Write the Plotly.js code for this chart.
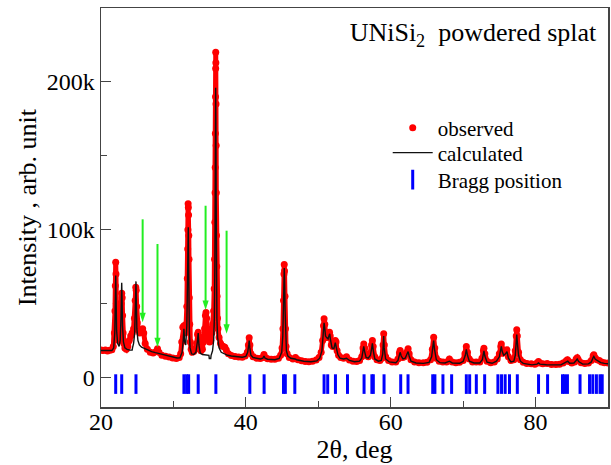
<!DOCTYPE html>
<html>
<head>
<meta charset="utf-8">
<script src="https://cdn.plot.ly/plotly-3.0.1.min.js"></script>
<style>html,body{margin:0;padding:0;background:#fff}</style>
</head>
<body>
<div id="chart" style="width:611px;height:465px"></div>
<script>
// observed pattern: 2theta (deg) and intensity (thousands of counts)
const obsX = [20.0,20.3,20.6,20.9,21.2,21.5,21.7,21.85,21.93,21.98,22.03,22.07,22.12,22.2,22.3,22.45,22.6,22.7,22.78,22.86,22.92,22.98,23.05,23.15,23.3,23.5,23.7,23.9,24.1,24.3,24.5,24.62,24.72,24.8,24.86,24.92,25.0,25.15,25.35,25.55,25.75,25.9,26.1,26.4,26.8,27.2,27.6,27.8,28.0,28.4,28.9,29.4,29.9,30.4,30.8,31.0,31.15,31.3,31.45,31.6,31.75,31.85,31.92,31.97,32.0,32.03,32.06,32.09,32.12,32.15,32.19,32.25,32.33,32.45,32.6,32.8,33.0,33.2,33.33,33.42,33.5,33.62,33.8,34.0,34.15,34.3,34.42,34.5,34.58,34.7,34.85,35.0,35.15,35.3,35.45,35.55,35.63,35.68,35.72,35.75,35.77,35.79,35.81,35.83,35.84,35.86,35.88,35.9,35.92,35.95,35.98,36.02,36.08,36.15,36.3,36.5,36.7,36.9,37.1,37.3,37.6,38.0,38.5,39.0,39.5,39.9,40.2,40.35,40.46,40.56,40.7,41.0,41.5,42.0,42.3,42.5,42.7,43.0,43.5,44.0,44.5,44.8,45.0,45.12,45.2,45.26,45.3,45.34,45.4,45.47,45.55,45.7,46.0,46.5,46.85,47.2,47.7,48.2,48.7,49.2,49.7,50.1,50.4,50.6,50.72,50.8,50.9,51.0,51.1,51.25,51.4,51.55,51.65,51.8,52.0,52.2,52.35,52.45,52.6,52.8,53.1,53.5,53.9,54.3,54.8,55.3,55.7,56.0,56.18,56.28,56.4,56.6,56.9,57.15,57.35,57.47,57.58,57.8,58.1,58.5,58.8,58.95,59.03,59.12,59.3,59.7,60.2,60.7,61.0,61.2,61.3,61.42,61.65,61.9,62.2,62.4,62.55,62.8,63.3,63.9,64.5,65.0,65.5,65.75,65.93,66.08,66.3,66.7,67.2,67.7,68.1,68.5,69.0,69.5,70.0,70.25,70.44,70.6,70.85,71.3,71.8,72.3,72.6,72.8,72.87,73.0,73.3,73.8,74.3,74.7,75.0,75.2,75.27,75.4,75.6,75.85,76.05,76.25,76.6,77.0,77.2,77.33,77.4,77.48,77.65,77.9,78.3,78.8,79.4,79.9,80.2,80.4,80.6,81.0,81.6,82.2,82.8,83.3,83.8,84.2,84.4,84.6,85.0,85.4,85.6,85.75,85.9,86.3,86.8,87.3,87.7,87.95,88.04,88.2,88.5,88.8,89.1,89.5,90.0];
const obsY = [18.6,18.2,18.5,17.9,18.4,18.8,21,30,45,62,78,70,50,33,27,25,28,38,50,57,54,42,30,23,20,19,21,25,28,30,33,40,52,61,59,48,37,32,30,32,33,30,23,19,17,16.5,17.5,19.5,17,15,14.3,13.8,13.2,12.8,13.5,16,24,34,35,30,36,48,67,87,100,117.6,115,110,96,80,54,36,24,19,17,17.5,19,23,29,30.6,28,21,18,19,24,33,42,44,40,31,26,24,25,30,36,45,60,80,105,125,142,165,190,209,220,213,185,157,125,96,75,55,40,33,27,23,21.5,21,20.5,18.5,16,14.8,14.2,13.9,13.6,14.5,17,22,26.8,22,16,14,13,12.8,13.5,15.5,13.5,12.7,12.3,12.3,13,15,20,33,52,70,76.4,72,55,33,21,16,13.5,12.5,13.5,12,11.3,10.8,10.6,10.9,11.8,13.5,17,25,35,39.7,36,30,29,27,27.5,30.6,28,22,21,21.5,25,24,18,15,13.5,13,14,11.8,11,10.8,11.5,14,20,22.7,20,15,14,16,22,25,21,14,12,11.5,13,22,29.5,22,14,11.5,10.5,10.5,12.5,16.5,18.2,16,13.5,14,17,19.4,16,12,10.5,10,10,10.3,12,19,27.2,20,13,11,10.5,10.5,12.5,10.5,10,10.2,11.5,16,21,17,12.5,10.5,10.5,10.5,13,18,19.8,16,11,10,10.5,12.5,16,21,22.7,19,16.5,17.5,18.7,14,11.5,12,18,28,32.2,28,17,12,10.2,9.5,9.2,9,9.8,10.8,9.8,9.2,9.5,8.8,8.8,9,9.8,11.2,12,10.8,9.8,10.5,12.5,13.3,12,10,9.5,9.8,11.5,14.5,15.3,13.5,12,11.5,10.5,10,9.8];

// calculated profile
const calcX = [20.0,21.5,21.75,21.9,21.97,22.03,22.08,22.15,22.3,22.5,22.65,22.76,22.83,22.86,22.9,22.97,23.1,23.3,23.6,24.0,24.3,24.35,24.5,24.65,24.75,24.8,24.83,24.88,24.95,25.1,25.3,25.6,26.0,26.5,27.0,27.5,28.0,28.5,29.0,29.5,30.0,30.5,30.9,31.2,31.35,31.45,31.55,31.7,31.85,31.95,32.02,32.05,32.09,32.14,32.2,32.3,32.5,32.8,33.1,33.3,33.42,33.52,33.7,34.0,34.5,34.9,34.95,35.15,35.2,35.4,35.55,35.65,35.72,35.77,35.8,35.83,35.86,35.9,35.95,36.0,36.1,36.3,36.6,37.0,37.5,38.0,38.5,39.0,39.5,40.0,40.25,40.4,40.46,40.55,40.7,41.0,41.5,42.0,42.35,42.5,42.65,43.0,44.0,44.6,44.95,45.1,45.2,45.27,45.3,45.35,45.42,45.5,45.6,45.8,46.2,46.8,47.0,48.0,49.0,49.8,50.2,50.5,50.7,50.8,50.9,51.0,51.15,51.35,51.5,51.58,51.7,51.9,52.15,52.35,52.5,52.7,53.0,53.5,53.9,54.3,55.0,55.7,56.0,56.2,56.28,56.4,56.6,56.9,57.2,57.38,57.47,57.6,57.8,58.3,58.7,58.9,59.0,59.03,59.1,59.3,59.8,60.7,61.0,61.2,61.3,61.45,61.7,62.0,62.25,62.4,62.55,62.8,63.5,64.5,65.3,65.65,65.85,65.93,66.05,66.3,66.8,67.5,68.1,68.5,69.5,70.0,70.3,70.44,70.6,70.85,71.5,72.3,72.65,72.8,72.87,73.0,73.3,74.0,74.6,75.0,75.18,75.27,75.4,75.6,75.85,76.05,76.25,76.6,77.0,77.2,77.33,77.4,77.48,77.65,77.9,78.3,79.5,80.2,80.4,80.6,81.5,82.5,83.5,84.0,84.3,84.45,84.7,85.3,85.6,85.75,85.95,86.5,87.3,87.7,87.95,88.04,88.25,88.6,89.0,89.5,90.0];
const calcY = [18.2,18.2,20,30,50,69,55,32,23,21,25,40,55,64,55,35,24,20,19,18.5,18.5,20,23,30,45,58,65,50,33,25,22,20.5,19.5,18.5,17.5,16.8,16.2,15.6,15,14.4,13.8,13.2,13.3,17,25,33,24,22,35,65,95,101.6,80,50,30,20,16,15.5,17,24,30,22,16.5,15.5,15,15,12.8,12.8,15,18,25,40,75,130,175,196,175,120,65,40,27,20,17,16,15,14.5,14.2,13.9,13.7,14.3,17,22,25,20,15,13.5,12.8,12.5,13,14.5,13,12.3,12,12.8,17,28,50,70,74,66,45,26,18,14.5,13,12.5,12,11,10.6,11.2,13,18,30,37,33,28,27,26,28.5,29.5,25,20,19.5,23.5,20,15.5,13,12.5,13,11.5,10.6,11,13,18.5,21,17.5,13.5,13,15,20,23,18,12.5,11,11.5,16,25,28,20,12.5,10.5,10,11.5,15,17,14.5,12.5,13,15.5,17.5,14.5,11,9.8,9.5,10.2,14,22,25,19,12,10,9.8,11,9.8,9.6,10.8,15,19,15,11,9.8,9.8,12,16.5,18,14.5,10.3,9.6,11,14,19,21,17.5,15,16,17.5,13,10.5,11,15,24,29,24,15,11,9.5,8.5,9,9.8,9,8.6,8.3,8.5,9.8,11,11,9.6,9.8,11.5,12.5,10.8,9,9.2,10.5,13.5,14.2,12.3,11,10,9.5,9.3];

// Bragg reflection positions (deg) and their marker level (thousands)
const braggX = [22.03,22.86,24.83,31.45,31.82,32.10,33.42,35.86,40.55,42.52,45.2,45.45,46.76,50.8,51.3,52.37,54.03,56.32,57.4,57.6,59.08,61.38,62.39,65.8,66.1,67.21,68.41,70.44,70.9,71.82,72.97,74.8,75.3,75.8,76.4,77.48,80.41,81.66,83.72,84.0,84.4,86.14,87.45,87.9,88.4,88.9,89.2];
const braggLevel = -4.5;

// impurity arrows: position (deg), tail and tip intensities (thousands)
const arrowX = [25.75, 27.8, 34.44, 37.34];
const arrowTail = [107, 90.3, 116.2, 99.3];
const arrowTip = [37.4, 20.5, 45.7, 29.5];

const K = 1000;
const toCounts = a => a.map(v => v * K);

const shaftX = [], shaftY = [];
arrowX.forEach((x, i) => { shaftX.push(x, x, null); shaftY.push(arrowTail[i] * K, (arrowTip[i] + 3) * K, null); });

const serif = 'Liberation Serif, Times New Roman, serif';
const legendFont = {family: serif, size: 21, color: '#000'};

const traces = [
  {x: obsX, y: toCounts(obsY), type: 'scatter', mode: 'lines', line: {color: '#ff0000', width: 5}, showlegend: false, hoverinfo: 'skip'},
  {x: obsX, y: toCounts(obsY), type: 'scatter', mode: 'markers', name: 'observed', legend: 'legend', marker: {color: '#ff0000', size: 7}},
  {x: calcX, y: toCounts(calcY), type: 'scatter', mode: 'lines', name: 'calculated', legend: 'legend2', line: {color: '#111111', width: 1.4}},
  {x: braggX, y: braggX.map(() => braggLevel * K), type: 'scatter', mode: 'markers', name: 'Bragg position', legend: 'legend3',
   marker: {symbol: 'line-ns', size: 14, color: '#0000ff', line: {color: '#0000ff', width: 3}}},
  {x: shaftX, y: shaftY, type: 'scatter', mode: 'lines', line: {color: '#22ee22', width: 2}, showlegend: false, hoverinfo: 'skip'},
  {x: arrowX, y: toCounts(arrowTip), type: 'scatter', mode: 'markers', showlegend: false, hoverinfo: 'skip',
   marker: {symbol: 'arrow', angle: 180, size: 10, color: '#22ee22', line: {width: 0}}}
];

const axisCommon = {
  showline: true, mirror: true, linecolor: '#444', linewidth: 1.5,
  ticks: 'inside', tickcolor: '#444', tickwidth: 1.2, ticklen: 10,
  showgrid: false, zeroline: false,
  tickfont: {family: serif, size: 24, color: '#000'}
};

const legX = 0.5655;
const layout = {
  width: 611, height: 465,
  margin: {l: 101, r: 3, t: 8, b: 58},
  paper_bgcolor: '#fff', plot_bgcolor: '#fff',
  font: {family: serif, color: '#000'},
  title: {text: 'UNiSi<sub>2</sub>\u00a0 powdered splat', font: {family: serif, size: 26, color: '#000'},
          xref: 'paper', x: 0.977, xanchor: 'right', yref: 'paper', y: 0.962, yanchor: 'top'},
  xaxis: Object.assign({}, axisCommon, {
    range: [20, 90], tick0: 20, dtick: 20, ticklabelstandoff: -7,
    minor: {ticks: 'inside', ticklen: 6, tickcolor: '#444', tickwidth: 1.2, dtick: 10, tick0: 20, showgrid: false},
    title: {text: '2θ, deg', font: {family: serif, size: 26, color: '#000'}, standoff: 0}
  }),
  yaxis: Object.assign({}, axisCommon, {
    range: [-20000, 250000], tick0: 0, dtick: 100000,
    minor: {ticks: 'inside', ticklen: 6, tickcolor: '#444', tickwidth: 1.2, dtick: 50000, tick0: 0, showgrid: false},
    title: {text: 'Intensity , arb. unit', font: {family: serif, size: 26, color: '#000'}, standoff: 2}
  }),
  legend:  {x: legX, y: 0.699, xanchor: 'left', yanchor: 'middle', bgcolor: 'rgba(0,0,0,0)', font: legendFont, itemwidth: 40},
  legend2: {x: legX, y: 0.6366, xanchor: 'left', yanchor: 'middle', bgcolor: 'rgba(0,0,0,0)', font: legendFont, itemwidth: 40},
  legend3: {x: legX, y: 0.5689, xanchor: 'left', yanchor: 'middle', bgcolor: 'rgba(0,0,0,0)', font: legendFont, itemwidth: 40},
  showlegend: true
};

Plotly.newPlot('chart', traces, layout, {displayModeBar: false, staticPlot: true});
</script>
</body>
</html>
